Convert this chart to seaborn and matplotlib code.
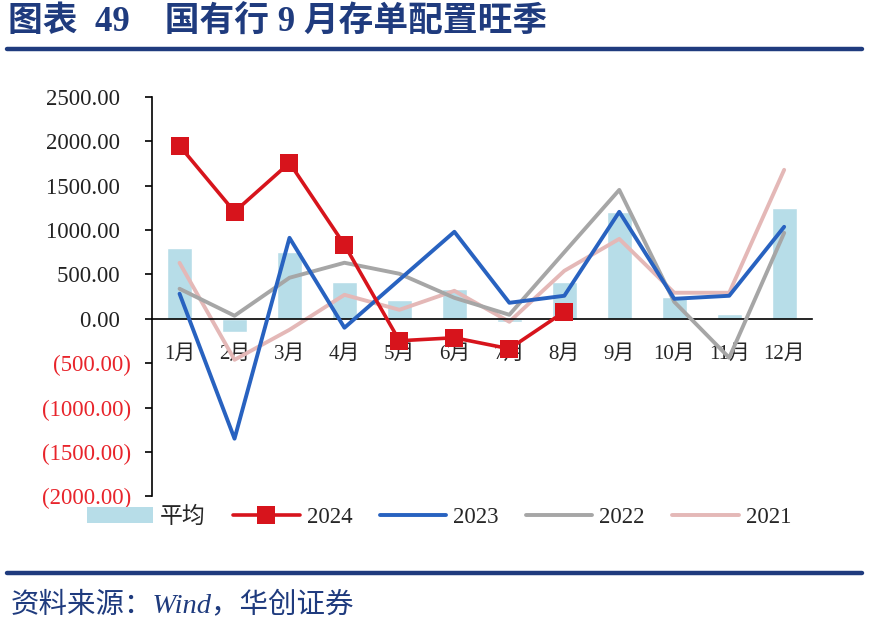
import numpy as np
import pandas as pd
import matplotlib
matplotlib.use('Agg')
import matplotlib.pyplot as plt
from matplotlib.lines import Line2D
from matplotlib.patches import Patch
import seaborn as sns

sns.set_theme(style='white')
plt.rcParams['font.family'] = ['Liberation Serif', 'Noto Sans CJK SC', 'DejaVu Sans']
plt.rcParams['axes.unicode_minus'] = False

# data
months = ['1月', '2月', '3月', '4月', '5月', '6月', '7月', '8月', '9月', '10月', '11月', '12月']
avg = [800, -146, 755, 416, 214, 338, -34, 416, 1205, 248, 56, 1250]
y2024 = [1948, 1205, 1757, 833, -248, -214, -338, 79]
y2023 = [282, -1351, 912, -101, 440, 980, 180, 259, 1205, 225, 259, 1036]
y2022 = [338, 34, 462, 631, 507, 236, 45, 750, 1452, 191, -439, 968]
y2021 = [630, -462, -124, 270, 101, 315, -34, 540, 900, 293, 293, 1678]

navy = '#1F3B7E'
c_bar = '#B7DDE8'
c24 = '#D7141C'
c23 = '#2862C0'
c22 = '#A6A6A6'
c21 = '#E4B8B7'

df = pd.DataFrame({'month': months, 'pos': range(12), 'avg': avg,
                   '2023': y2023, '2022': y2022, '2021': y2021})
df24 = pd.DataFrame({'pos': range(len(y2024)), 'v': y2024})

fig = plt.figure(figsize=(8.69, 6.29), dpi=100)
ax = fig.add_axes([0.175, 0.211, 0.759, 0.635])

sns.barplot(data=df, x='month', y='avg', color=c_bar, width=0.46, ax=ax,
            saturation=1, zorder=1)
sns.lineplot(data=df, x='pos', y='2021', color=c21, lw=2.8, ax=ax, zorder=2)
sns.lineplot(data=df, x='pos', y='2022', color=c22, lw=2.8, ax=ax, zorder=3)
sns.lineplot(data=df, x='pos', y='2023', color=c23, lw=2.8, ax=ax, zorder=4)
sns.lineplot(data=df24, x='pos', y='v', color=c24, lw=2.6, marker='s',
             markersize=12.5, markeredgewidth=0, ax=ax, zorder=5)

ax.set_xlim(-0.5, 11.5)
ax.set_ylim(-2000, 2500)
ax.set_xlabel('')
ax.set_ylabel('')

# axes styling
for s in ['top', 'right']:
    ax.spines[s].set_visible(False)
ax.spines['bottom'].set_position(('data', 0))
ax.spines['bottom'].set_color('black')
ax.spines['left'].set_color('black')
ax.spines['bottom'].set_linewidth(1.2)
ax.spines['left'].set_linewidth(1.2)

ax.set_xticks(range(12))
ax.set_xticklabels(months, fontsize=15)
ax.set_xticks(np.arange(0.5, 12, 1), minor=True)
ax.tick_params(axis='x', which='major', length=0, pad=19)
ax.tick_params(axis='x', which='minor', length=5, width=1.2, direction='out', color='black')

yt = np.arange(-2000, 2501, 500)
ax.set_yticks(yt)
ax.set_yticklabels([f'{v:.2f}  ' if v >= 0 else f'({-v:.2f})' for v in yt], fontsize=16.5)
ax.tick_params(axis='y', length=5, width=1.2, direction='out', color='black', left=True, pad=10)
for lab, v in zip(ax.get_yticklabels(), yt):
    lab.set_color('#E8242B' if v < 0 else '#222222')

handles = [Patch(facecolor=c_bar, edgecolor='none'),
           Line2D([], [], color=c24, lw=2.6, marker='s', markersize=12.5, markeredgewidth=0),
           Line2D([], [], color=c23, lw=2.8),
           Line2D([], [], color=c22, lw=2.8),
           Line2D([], [], color=c21, lw=2.8)]
fig.legend(handles, ['平均', '2024', '2023', '2022', '2021'], loc='center',
           bbox_to_anchor=(0.505, 0.178), ncol=5, frameon=False, fontsize=16.5,
           handlelength=2.9, columnspacing=1.2, handletextpad=0.3)

# title, rules and source
fig.text(0.009, 1 - 23 / 629, '图表  49    国有行 9 月存单配置旺季', fontsize=25,
         fontweight='bold', color=navy, va='center', ha='left')
fig.add_artist(Line2D([0.008, 0.992], [1 - 49 / 629] * 2, transform=fig.transFigure,
                      color=navy, lw=3.2))
fig.add_artist(Line2D([0.008, 0.992], [1 - 573 / 629] * 2, transform=fig.transFigure,
                      color=navy, lw=3.2))
fig.text(0.012, 1 - 606 / 629, '资料来源：Wind，华创证券', fontsize=20.5, style='italic',
         color=navy, va='center', ha='left')

fig.savefig('out.png', dpi=100)
